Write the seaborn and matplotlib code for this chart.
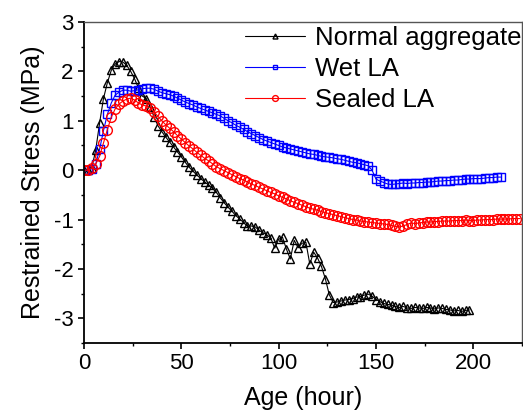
import numpy as np
import pandas as pd
import matplotlib
matplotlib.use("Agg")
import matplotlib.pyplot as plt
import seaborn as sns
from matplotlib.ticker import MultipleLocator

# Restrained stress readings, sampled every 2 hours
normal_age = np.arange(0, 200, 2)
normal_stress = [
    0.00, 0.00, 0.05, 0.40, 0.95, 1.45, 1.77, 2.02, 2.15, 2.20,
    2.19, 2.12, 2.00, 1.85, 1.66, 1.50, 1.45, 1.28, 1.08, 0.90,
    0.78, 0.67, 0.57, 0.47, 0.37, 0.27, 0.16, 0.06, -0.02, -0.10,
    -0.17, -0.24, -0.30, -0.37, -0.45, -0.56, -0.66, -0.75, -0.83, -0.92,
    -0.99, -1.06, -1.14, -1.13, -1.15, -1.22, -1.27, -1.31, -1.38, -1.58,
    -1.40, -1.36, -1.60, -1.80, -1.42, -1.57, -1.48, -1.46, -1.90, -1.66,
    -1.78, -1.95, -2.20, -2.52, -2.68, -2.67, -2.65, -2.63, -2.62, -2.60,
    -2.57, -2.56, -2.53, -2.51, -2.55, -2.62, -2.66, -2.70, -2.72, -2.73,
    -2.76, -2.78, -2.76, -2.79, -2.80, -2.78, -2.79, -2.80, -2.78, -2.79,
    -2.81, -2.79, -2.80, -2.82, -2.83, -2.85, -2.84, -2.86, -2.84, -2.83,
]

wet_age = np.arange(0, 216, 2)
wet_stress = [
    0.00, 0.00, 0.03, 0.12, 0.42, 0.80, 1.13, 1.36, 1.52, 1.58,
    1.62, 1.62, 1.60, 1.61, 1.63, 1.65, 1.66, 1.66, 1.64, 1.60,
    1.57, 1.55, 1.53, 1.50, 1.46, 1.42, 1.38, 1.35, 1.32, 1.28,
    1.25, 1.22, 1.19, 1.16, 1.13, 1.10, 1.05, 1.00, 0.96, 0.91,
    0.87, 0.83, 0.78, 0.74, 0.70, 0.66, 0.62, 0.59, 0.56, 0.53,
    0.50, 0.47, 0.45, 0.43, 0.41, 0.39, 0.37, 0.35, 0.33, 0.32,
    0.30, 0.28, 0.27, 0.26, 0.25, 0.23, 0.22, 0.20, 0.18, 0.16,
    0.15, 0.13, 0.11, 0.09, 0.00, -0.18, -0.22, -0.25, -0.28, -0.29,
    -0.28, -0.27, -0.26, -0.27, -0.26, -0.26, -0.25, -0.25, -0.24, -0.24,
    -0.23, -0.22, -0.22, -0.21, -0.21, -0.20, -0.20, -0.19, -0.18, -0.18,
    -0.17, -0.17, -0.17, -0.16, -0.15, -0.15, -0.14, -0.14,
]

sealed_age = np.arange(0, 226, 2)
sealed_stress = [
    0.00, 0.00, 0.04, 0.12, 0.28, 0.55, 0.82, 1.07, 1.24, 1.34,
    1.40, 1.44, 1.46, 1.42, 1.36, 1.32, 1.30, 1.26, 1.18, 1.09,
    1.00, 0.92, 0.85, 0.78, 0.70, 0.63, 0.56, 0.49, 0.43, 0.36,
    0.30, 0.24, 0.19, 0.13, 0.07, 0.03, -0.01, -0.05, -0.09, -0.13,
    -0.17, -0.20, -0.24, -0.28, -0.31, -0.35, -0.38, -0.42, -0.45, -0.48,
    -0.52, -0.55, -0.58, -0.62, -0.65, -0.68, -0.71, -0.74, -0.77, -0.79,
    -0.81, -0.84, -0.86, -0.88, -0.90, -0.92, -0.94, -0.96, -0.98, -1.00,
    -1.01, -1.03, -1.04, -1.05, -1.06, -1.07, -1.08, -1.09, -1.10, -1.12,
    -1.14, -1.15, -1.13, -1.10, -1.07, -1.08, -1.07, -1.06, -1.05, -1.05,
    -1.04, -1.04, -1.03, -1.03, -1.03, -1.02, -1.02, -1.02, -1.01, -1.02,
    -1.02, -1.01, -1.01, -1.00, -1.00, -1.00, -0.99, -0.99, -0.99, -0.99,
    -0.98, -0.98, -0.98,
]

sns.set_style("ticks")
plt.rcParams["font.family"] = ["Liberation Sans", "DejaVu Sans"]
plt.rcParams["axes.unicode_minus"] = False
plt.rcParams["text.color"] = "black"
plt.rcParams["axes.labelcolor"] = "black"

fig = plt.figure(figsize=(5.23, 4.16), dpi=100)
ax = fig.add_axes([0.1606, 0.1755, 0.8374, 0.7715])

series = [
    ("Normal aggregate", normal_age, normal_stress, "black", "^", 6),
    ("Wet LA", wet_age, wet_stress, "blue", "s", 5.8),
    ("Sealed LA", sealed_age, sealed_stress, "red", "o", 7),
]
for name, age, stress, color, marker, ms in series:
    df = pd.DataFrame({"Age": age, "Stress": stress})
    sns.lineplot(data=df, x="Age", y="Stress", ax=ax, color=color,
                 marker=marker, markersize=ms, mfc="none", mec=color,
                 mew=1.0, linewidth=0.8, label=name, sort=False,
                 estimator=None)

ax.set_xlim(0, 225)
ax.set_ylim(-3.5, 3)
ax.xaxis.set_major_locator(MultipleLocator(50))
ax.xaxis.set_minor_locator(MultipleLocator(25))
ax.yaxis.set_major_locator(MultipleLocator(1))
ax.yaxis.set_minor_locator(MultipleLocator(0.5))
ax.tick_params(which="major", direction="out", length=4, width=1.2,
               labelsize=16, colors="black")
ax.tick_params(which="minor", direction="out", length=2.5, width=1,
               colors="black")

for side in ["left", "bottom"]:
    ax.spines[side].set_linewidth(1.3)
    ax.spines[side].set_color("black")
for side in ["top", "right"]:
    ax.spines[side].set_visible(True)
    ax.spines[side].set_linewidth(1)
    ax.spines[side].set_color("#555555")

ax.set_xlabel("Age (hour)", fontsize=18, labelpad=8)
ax.set_ylabel("Restrained Stress (MPa)", fontsize=18, labelpad=6)

leg = ax.legend(loc="upper right", bbox_to_anchor=(1.022, 1.02),
                frameon=False, fontsize=18.5, handlelength=2.3,
                handletextpad=0.4, labelspacing=0.28, borderaxespad=0.0,
                markerscale=0.6)

fig.savefig("out.png", dpi=100)
